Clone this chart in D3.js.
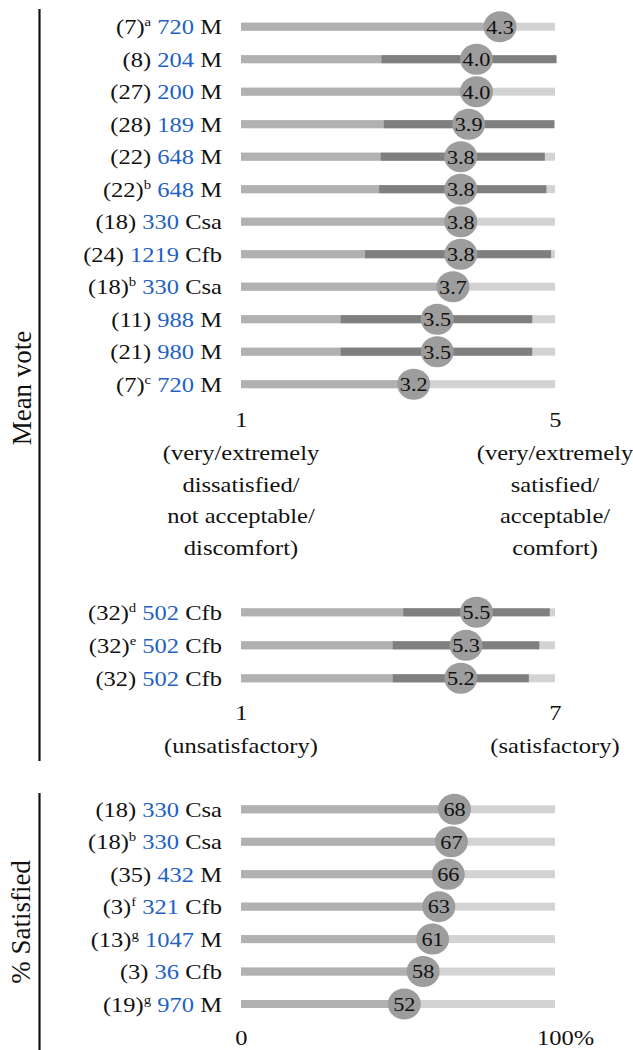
<!DOCTYPE html>
<html>
<head>
<meta charset="utf-8">
<script src="https://cdn.jsdelivr.net/npm/d3@7"></script>
<style>
  html, body { margin: 0; padding: 0; background: #fff; }
  svg { display: block; }
  text { font-family: 'Liberation Serif', 'Times New Roman', serif; white-space: pre; }
</style>
</head>
<body>
<svg id="chart" width="633" height="1050"></svg>
<script>
// ---- Mean vote, 5-point scales ----
const mvRefs     = [7, 8, 27, 28, 22, 22, 18, 24, 18, 11, 21, 7];
const mvNotes    = ["a", "", "", "", "", "b", "", "", "b", "", "", "c"];
const mvSizes    = [720, 204, 200, 189, 648, 648, 330, 1219, 330, 988, 980, 720];
const mvClimates = ["M", "M", "M", "M", "M", "M", "Csa", "Cfb", "Csa", "M", "M", "M"];
const mvMeans    = [4.3, 4.0, 4.0, 3.9, 3.8, 3.8, 3.8, 3.8, 3.7, 3.5, 3.5, 3.2];
const mvLows     = [null, 2.79, null, 2.82, 2.78, 2.76, null, 2.58, null, 2.27, 2.27, null];
const mvHighs    = [null, 5.02, null, 4.99, 4.87, 4.89, null, 4.95, null, 4.71, 4.71, null];
const mvTicks    = [1, 5];
const mvTickNotes = [
  ["(very/extremely", "dissatisfied/", "not acceptable/", "discomfort)"],
  ["(very/extremely", "satisfied/", "acceptable/", "comfort)"]
];

// ---- Mean vote, 7-point scale ----
const m7Refs     = [32, 32, 32];
const m7Notes    = ["d", "e", ""];
const m7Sizes    = [502, 502, 502];
const m7Climates = ["Cfb", "Cfb", "Cfb"];
const m7Means    = [5.5, 5.3, 5.2];
const m7Lows     = [4.1, 3.9, 3.9];
const m7Highs    = [6.9, 6.7, 6.5];
const m7Ticks    = [1, 7];
const m7TickNotes = [["(unsatisfactory)"], ["(satisfactory)"]];

// ---- Percentage satisfied ----
const psRefs     = [18, 18, 35, 3, 13, 3, 19];
const psNotes    = ["", "b", "", "f", "g", "", "g"];
const psSizes    = [330, 330, 432, 321, 1047, 36, 970];
const psClimates = ["Csa", "Csa", "M", "Cfb", "M", "Cfb", "M"];
const psValues   = [68, 67, 66, 63, 61, 58, 52];
const psTicks    = [0, 100];
const psTickLabels = ["0", "100%"];

// ---- styling ----
const C_LIGHT = "#d3d3d3", C_MID = "#b1b1b1", C_DARK = "#7f7f7f", C_DOT = "#9d9d9d";
const C_BLUE = "#1f62c4", C_TEXT = "#111";
const SX = 1.14;          // horizontal widening of the serif lettering
const BAR_H = 8;
const X0 = 241, X1 = 555;

const svg = d3.select("#chart");

function drawPanel(p) {
  const n = p.means.length;
  const x = d3.scaleLinear().domain(p.domain).range([X0, X1]);
  const y = d3.scalePoint().domain(d3.range(n)).range(p.yRange);
  const g = svg.append("g");

  // row labels: (ref)^note size climate
  const lab = g.selectAll("text.row").data(d3.range(n)).join("text")
    .attr("class", "row")
    .attr("text-anchor", "end")
    .attr("font-size", 21.5)
    .attr("fill", C_TEXT)
    .attr("transform", i => `translate(222,${y(i) + 7.5}) scale(${SX},1)`);
  lab.append("tspan").text(i => `(${p.refs[i]})`);
  lab.filter(i => p.notes[i]).append("tspan")
    .attr("font-size", 13).attr("dy", -8).text(i => p.notes[i]);
  lab.append("tspan").attr("fill", C_BLUE)
    .attr("dy", i => p.notes[i] ? 8 : 0)
    .text(i => ` ${p.sizes[i]}`);
  lab.append("tspan").text(i => ` ${p.climates[i]}`);

  // full-scale track
  g.selectAll("rect.track").data(d3.range(n)).join("rect")
    .attr("x", x(p.domain[0])).attr("width", x(p.domain[1]) - x(p.domain[0]))
    .attr("y", i => y(i) - BAR_H / 2).attr("height", BAR_H)
    .attr("fill", C_LIGHT);
  // bar up to mean
  g.selectAll("rect.mean").data(d3.range(n)).join("rect")
    .attr("x", x(p.domain[0])).attr("width", i => x(p.means[i]) - x(p.domain[0]))
    .attr("y", i => y(i) - BAR_H / 2).attr("height", BAR_H)
    .attr("fill", C_MID);
  // spread band where reported
  if (p.lows) {
    g.selectAll("rect.spread").data(d3.range(n).filter(i => p.lows[i] != null)).join("rect")
      .attr("x", i => x(p.lows[i])).attr("width", i => x(p.highs[i]) - x(p.lows[i]))
      .attr("y", i => y(i) - BAR_H / 2).attr("height", BAR_H)
      .attr("fill", C_DARK);
  }
  // value markers
  const dot = g.selectAll("g.dot").data(d3.range(n)).join("g")
    .attr("transform", i => `translate(${x(p.means[i])},${y(i)})`);
  dot.append("ellipse").attr("rx", 16.5).attr("ry", 15.5).attr("fill", C_DOT);
  dot.append("text")
    .attr("text-anchor", "middle")
    .attr("font-size", 19.5)
    .attr("fill", C_TEXT)
    .attr("transform", `translate(0,6.8) scale(${SX},1)`)
    .text(i => p.fmt(p.means[i]));

  // scale end labels
  const axis = d3.axisBottom(x).tickValues(p.ticks).tickSize(0)
    .tickFormat((d, k) => p.tickLabels ? p.tickLabels[k] : d3.format("d")(d));
  const ag = g.append("g").attr("transform", `translate(0,${p.tickY})`).call(axis);
  ag.select(".domain").remove();
  ag.selectAll("text")
    .attr("y", 0).attr("dy", 0)
    .attr("font-size", 21.5)
    .attr("font-family", "'Liberation Serif', 'Times New Roman', serif")
    .attr("fill", C_TEXT)
    .attr("text-anchor", (d, k) => p.tickAnchor ? p.tickAnchor[k] : "middle")
    .attr("transform", (d, k) => `translate(${p.tickDx ? p.tickDx[k] : 0},0) scale(${SX},1)`);

  // verbal anchors below the scale ends
  if (p.tickNotes) {
    p.tickNotes.forEach((lines, k) => {
      lines.forEach((line, j) => {
        g.append("text")
          .attr("text-anchor", "middle")
          .attr("font-size", 21.5)
          .attr("fill", C_TEXT)
          .attr("transform", `translate(${x(p.ticks[k])},${p.noteY + j * 31.7}) scale(${SX},1)`)
          .text(line);
      });
    });
  }
}

drawPanel({
  refs: mvRefs, notes: mvNotes, sizes: mvSizes, climates: mvClimates,
  means: mvMeans, lows: mvLows, highs: mvHighs,
  domain: [1, 5], yRange: [26.7, 384.2], fmt: d3.format(".1f"),
  ticks: mvTicks, tickY: 426.5, tickNotes: mvTickNotes, noteY: 460
});

drawPanel({
  refs: m7Refs, notes: m7Notes, sizes: m7Sizes, climates: m7Climates,
  means: m7Means, lows: m7Lows, highs: m7Highs,
  domain: [1, 7], yRange: [612.3, 678.3], fmt: d3.format(".1f"),
  ticks: m7Ticks, tickY: 720, tickNotes: m7TickNotes, noteY: 753
});

drawPanel({
  refs: psRefs, notes: psNotes, sizes: psSizes, climates: psClimates,
  means: psValues, lows: null, highs: null,
  domain: [0, 100], yRange: [809.3, 1004], fmt: d3.format("d"),
  ticks: psTicks, tickLabels: psTickLabels, tickY: 1045,
  tickAnchor: ["middle", "start"], tickDx: [0, -18.5]
});

// group brackets and titles
svg.append("line").attr("x1", 39.5).attr("x2", 39.5).attr("y1", 9).attr("y2", 761)
  .attr("stroke", "#111").attr("stroke-width", 2.2);
svg.append("line").attr("x1", 39.5).attr("x2", 39.5).attr("y1", 793).attr("y2", 1050)
  .attr("stroke", "#111").attr("stroke-width", 2.2);

svg.append("text").attr("text-anchor", "middle").attr("font-size", 27).attr("fill", C_TEXT)
  .attr("transform", "translate(31,388) rotate(-90)").text("Mean vote");
svg.append("text").attr("text-anchor", "middle").attr("font-size", 27).attr("fill", C_TEXT)
  .attr("transform", "translate(30,922) rotate(-90)").text("% Satisfied");
</script>
</body>
</html>
